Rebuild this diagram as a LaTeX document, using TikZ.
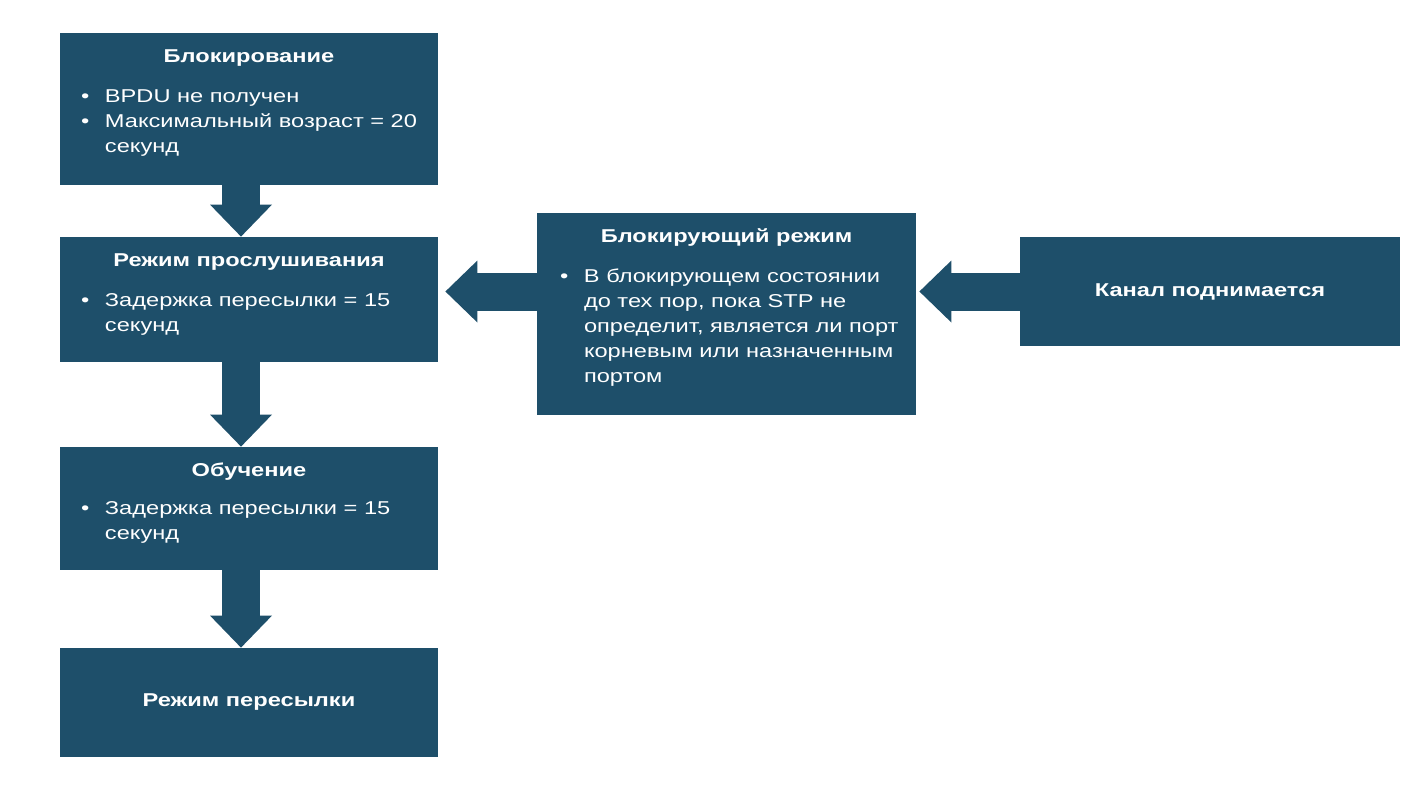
\documentclass[tikz,border=0pt]{standalone}
\usepackage{fontspec}
\setmainfont{Liberation Sans}[FakeStretch=1.27]
\usetikzlibrary{arrows.meta}

\definecolor{stpblue}{RGB}{30,79,106}
\newcommand{\bul}{\makebox[12pt][l]{\textbullet}}

\tikzset{
  stbox/.style={fill=stpblue, text=white, inner sep=0pt, minimum width=189pt, font=\bfseries\fontsize{9.3}{12.5}\selectfont},
  sttitle/.style={text=white, inner sep=0pt, anchor=base, font=\bfseries\fontsize{9.3}{12.5}\selectfont},
  stitems/.style={text=white, inner sep=0pt, anchor=base west, font=\fontsize{9.3}{12.5}\selectfont},
  flow/.style={draw=stpblue, line width=19pt, -{Triangle[width=31pt,length=16pt,line width=0pt]}}
}

\begin{document}
\begin{tikzpicture}[x=0.5pt,y=-0.5pt]
\useasboundingbox[fill=white] (0,0) rectangle (1414,788);

% Left column: port states
\node[stbox, minimum height=76pt] (block) at (249,109) {};
\node[sttitle] at ([yshift=-15pt]block.north) {Блокирование};
\node[stitems] at ([xshift=10.5pt,yshift=-35pt]block.north west) {\begin{tabular}[t]{@{}l@{}l@{}}
\bul & BPDU не получен\\
\bul & Максимальный возраст = 20\\
     & секунд
\end{tabular}};

\node[stbox, minimum height=62.5pt] (listen) at (249,299.5) {};
\node[sttitle] at ([yshift=-15pt]listen.north) {Режим прослушивания};
\node[stitems] at ([xshift=10.5pt,yshift=-35pt]listen.north west) {\begin{tabular}[t]{@{}l@{}l@{}}
\bul & Задержка пересылки = 15\\
     & секунд
\end{tabular}};

\node[stbox, minimum height=61.5pt] (learn) at (249,508.5) {};
\node[sttitle] at ([yshift=-15pt]learn.north) {Обучение};
\node[stitems] at ([xshift=10.5pt,yshift=-34pt]learn.north west) {\begin{tabular}[t]{@{}l@{}l@{}}
\bul & Задержка пересылки = 15\\
     & секунд
\end{tabular}};

\node[stbox, minimum height=54.5pt] (fwd) at (249,702.5) {Режим пересылки};

% Middle: blocking mode
\node[stbox, minimum width=189.5pt, minimum height=101pt] (bmode) at (726.5,314) {};
\node[sttitle] at ([yshift=-15pt]bmode.north) {Блокирующий режим};
\node[stitems] at ([xshift=11.5pt,yshift=-35pt]bmode.north west) {\begin{tabular}[t]{@{}l@{}l@{}}
\bul & В блокирующем состоянии\\
     & до тех пор, пока STP не\\
     & определит, является ли порт\\
     & корневым или назначенным\\
     & портом
\end{tabular}};

% Right: link comes up
\node[stbox, minimum width=190pt, minimum height=54.5pt] (link) at (1210,291.5) {Канал поднимается};

% Block arrows
\path (bmode.east |- link.west) ++(1.5pt,0) coordinate (tipR);
\path (listen.east |- link.west) ++(3.5pt,0) coordinate (tipL);
\draw[flow] ([xshift=-4pt]block.south) -- ([xshift=-4pt]listen.north);
\draw[flow] ([xshift=-4pt]listen.south) -- ([xshift=-4pt]learn.north);
\draw[flow] ([xshift=-4pt]learn.south) -- ([xshift=-4pt]fwd.north);
\draw[flow] (link.west) -- (tipR);
\draw[flow] (bmode.west |- link.west) -- (tipL);
\end{tikzpicture}
\end{document}
